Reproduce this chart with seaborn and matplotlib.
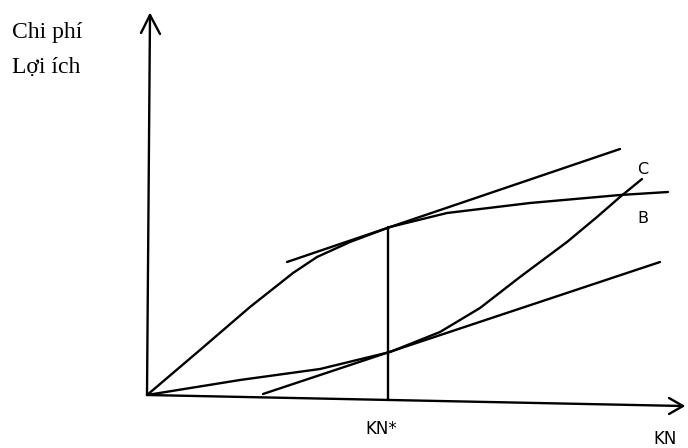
import numpy as np
import pandas as pd
import seaborn as sns
import matplotlib.pyplot as plt

# points (pixel coords, y grows downward)
b_x = [147, 153, 200, 250, 293, 317, 350, 390, 447, 530, 620, 668]
b_y = [395, 390, 350, 307, 273, 257, 242, 227, 213, 203, 195, 192]
c_x = [147, 240, 320, 390, 440, 480, 520, 567, 597, 620, 642]
c_y = [395, 380, 369, 352, 332, 308, 277, 242, 217, 197, 179]
tan_b_x = [287, 620]
tan_b_y = [262, 149]
tan_c_x = [263, 660]
tan_c_y = [394, 262]
kn_x = [388, 388]
kn_y = [227, 400]

sns.set_style("white")
plt.rcParams['font.family'] = ['DejaVu Sans']
plt.rcParams['text.color'] = 'black'

fig = plt.figure(figsize=(6.88, 4.48), dpi=100)
ax = fig.add_axes([0, 0, 1, 1])

lines = {
    'B': (b_x, b_y),
    'C': (c_x, c_y),
    'tanB': (tan_b_x, tan_b_y),
    'tanC': (tan_c_x, tan_c_y),
    'KN': (kn_x, kn_y),
    'xaxis': ([147, 683], [395, 406]),
    'yaxis': ([147, 150], [395, 15]),
    'yarrow': ([141, 150, 160], [33, 15, 34]),
    'xarrow': ([669, 683, 669], [398, 406, 414]),
}
for name, (xs, ys) in lines.items():
    df = pd.DataFrame({'x': xs, 'y': ys})
    sns.lineplot(data=df, x='x', y='y', sort=False, estimator=None,
                 color='black', lw=1.7, ax=ax)

ax.set_xlim(0, 688)
ax.set_ylim(448, 0)
ax.axis('off')

ax.text(12, 38, 'Chi phí', family='Liberation Serif', fontsize=17, va='baseline')
ax.text(12, 73, 'Lợi ích', family='Liberation Serif', fontsize=17, va='baseline')
ax.text(365, 434, 'KN*', fontsize=12, va='baseline')
ax.text(653, 444, 'KN', fontsize=12, va='baseline')
ax.text(637, 174, 'C', fontsize=11.5, va='baseline')
ax.text(637, 223, 'B', fontsize=11.5, va='baseline')

fig.savefig('out.png', dpi=100)
